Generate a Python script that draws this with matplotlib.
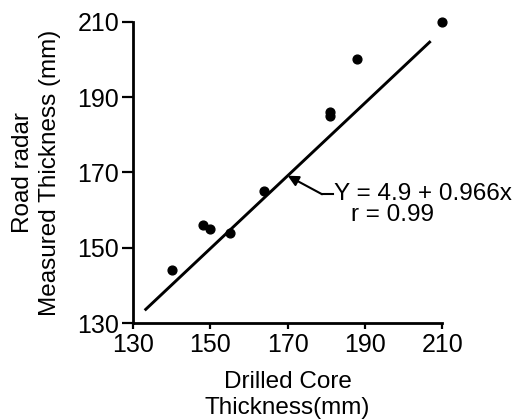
import matplotlib
matplotlib.use("Agg")
import matplotlib.pyplot as plt
import numpy as np

plt.rcParams["font.family"] = ["Liberation Sans", "DejaVu Sans"]

# drilled core vs. radar thickness (mm)
core_mm = [140, 148, 150, 155, 164, 181, 181, 188, 210]
radar_mm = [144, 156, 155, 154, 165, 186, 185, 200, 210]

# regression fit
intercept = 4.9
slope = 0.966
r_value = 0.99
fit_range = [133, 207]

ticks = [130, 150, 170, 190, 210]

fig = plt.figure(figsize=(5.24, 4.19), dpi=100)
ax = fig.add_axes([0.254, 0.229, 0.59, 0.719])

fx = np.array(fit_range, dtype=float)
ax.plot(fx, intercept + slope * fx, color="black", lw=2.1, solid_capstyle="butt")
ax.scatter(core_mm, radar_mm, s=40, color="black", zorder=3, clip_on=False)

ax.set_xlim(130, 210)
ax.set_ylim(130, 210)
ax.set_xticks(ticks)
ax.set_yticks(ticks)
ax.tick_params(labelsize=18, width=1.6, color="black")
ax.tick_params(axis="x", length=4, pad=3)
ax.tick_params(axis="y", length=8, pad=2)

for side in ("top", "right"):
    ax.spines[side].set_visible(False)
for side in ("left", "bottom"):
    ax.spines[side].set_linewidth(2)

ax.set_xlabel("Drilled Core\nThickness(mm)", fontsize=17.5, labelpad=10,
              linespacing=1.25)
ax.set_ylabel("Road radar\nMeasured Thickness (mm)", fontsize=17.5, labelpad=12,
              linespacing=1.25)

tip_x = 170
ax.annotate("", xy=(tip_x, intercept + slope * tip_x), xytext=(178.9, 164.2),
            arrowprops=dict(arrowstyle="-|>", color="black", lw=1.5,
                            mutation_scale=16, shrinkA=0, shrinkB=0))
ax.plot([178.9, 181.8], [164.2, 164.2], color="black", lw=1.5)
ax.text(182, 164.2, f"Y = {intercept} + {slope}x", fontsize=17.5,
        ha="left", va="center")
ax.text(186.3, 158.6, f"r = {r_value}", fontsize=17.5, ha="left", va="center")

fig.savefig("out.png", dpi=100)
